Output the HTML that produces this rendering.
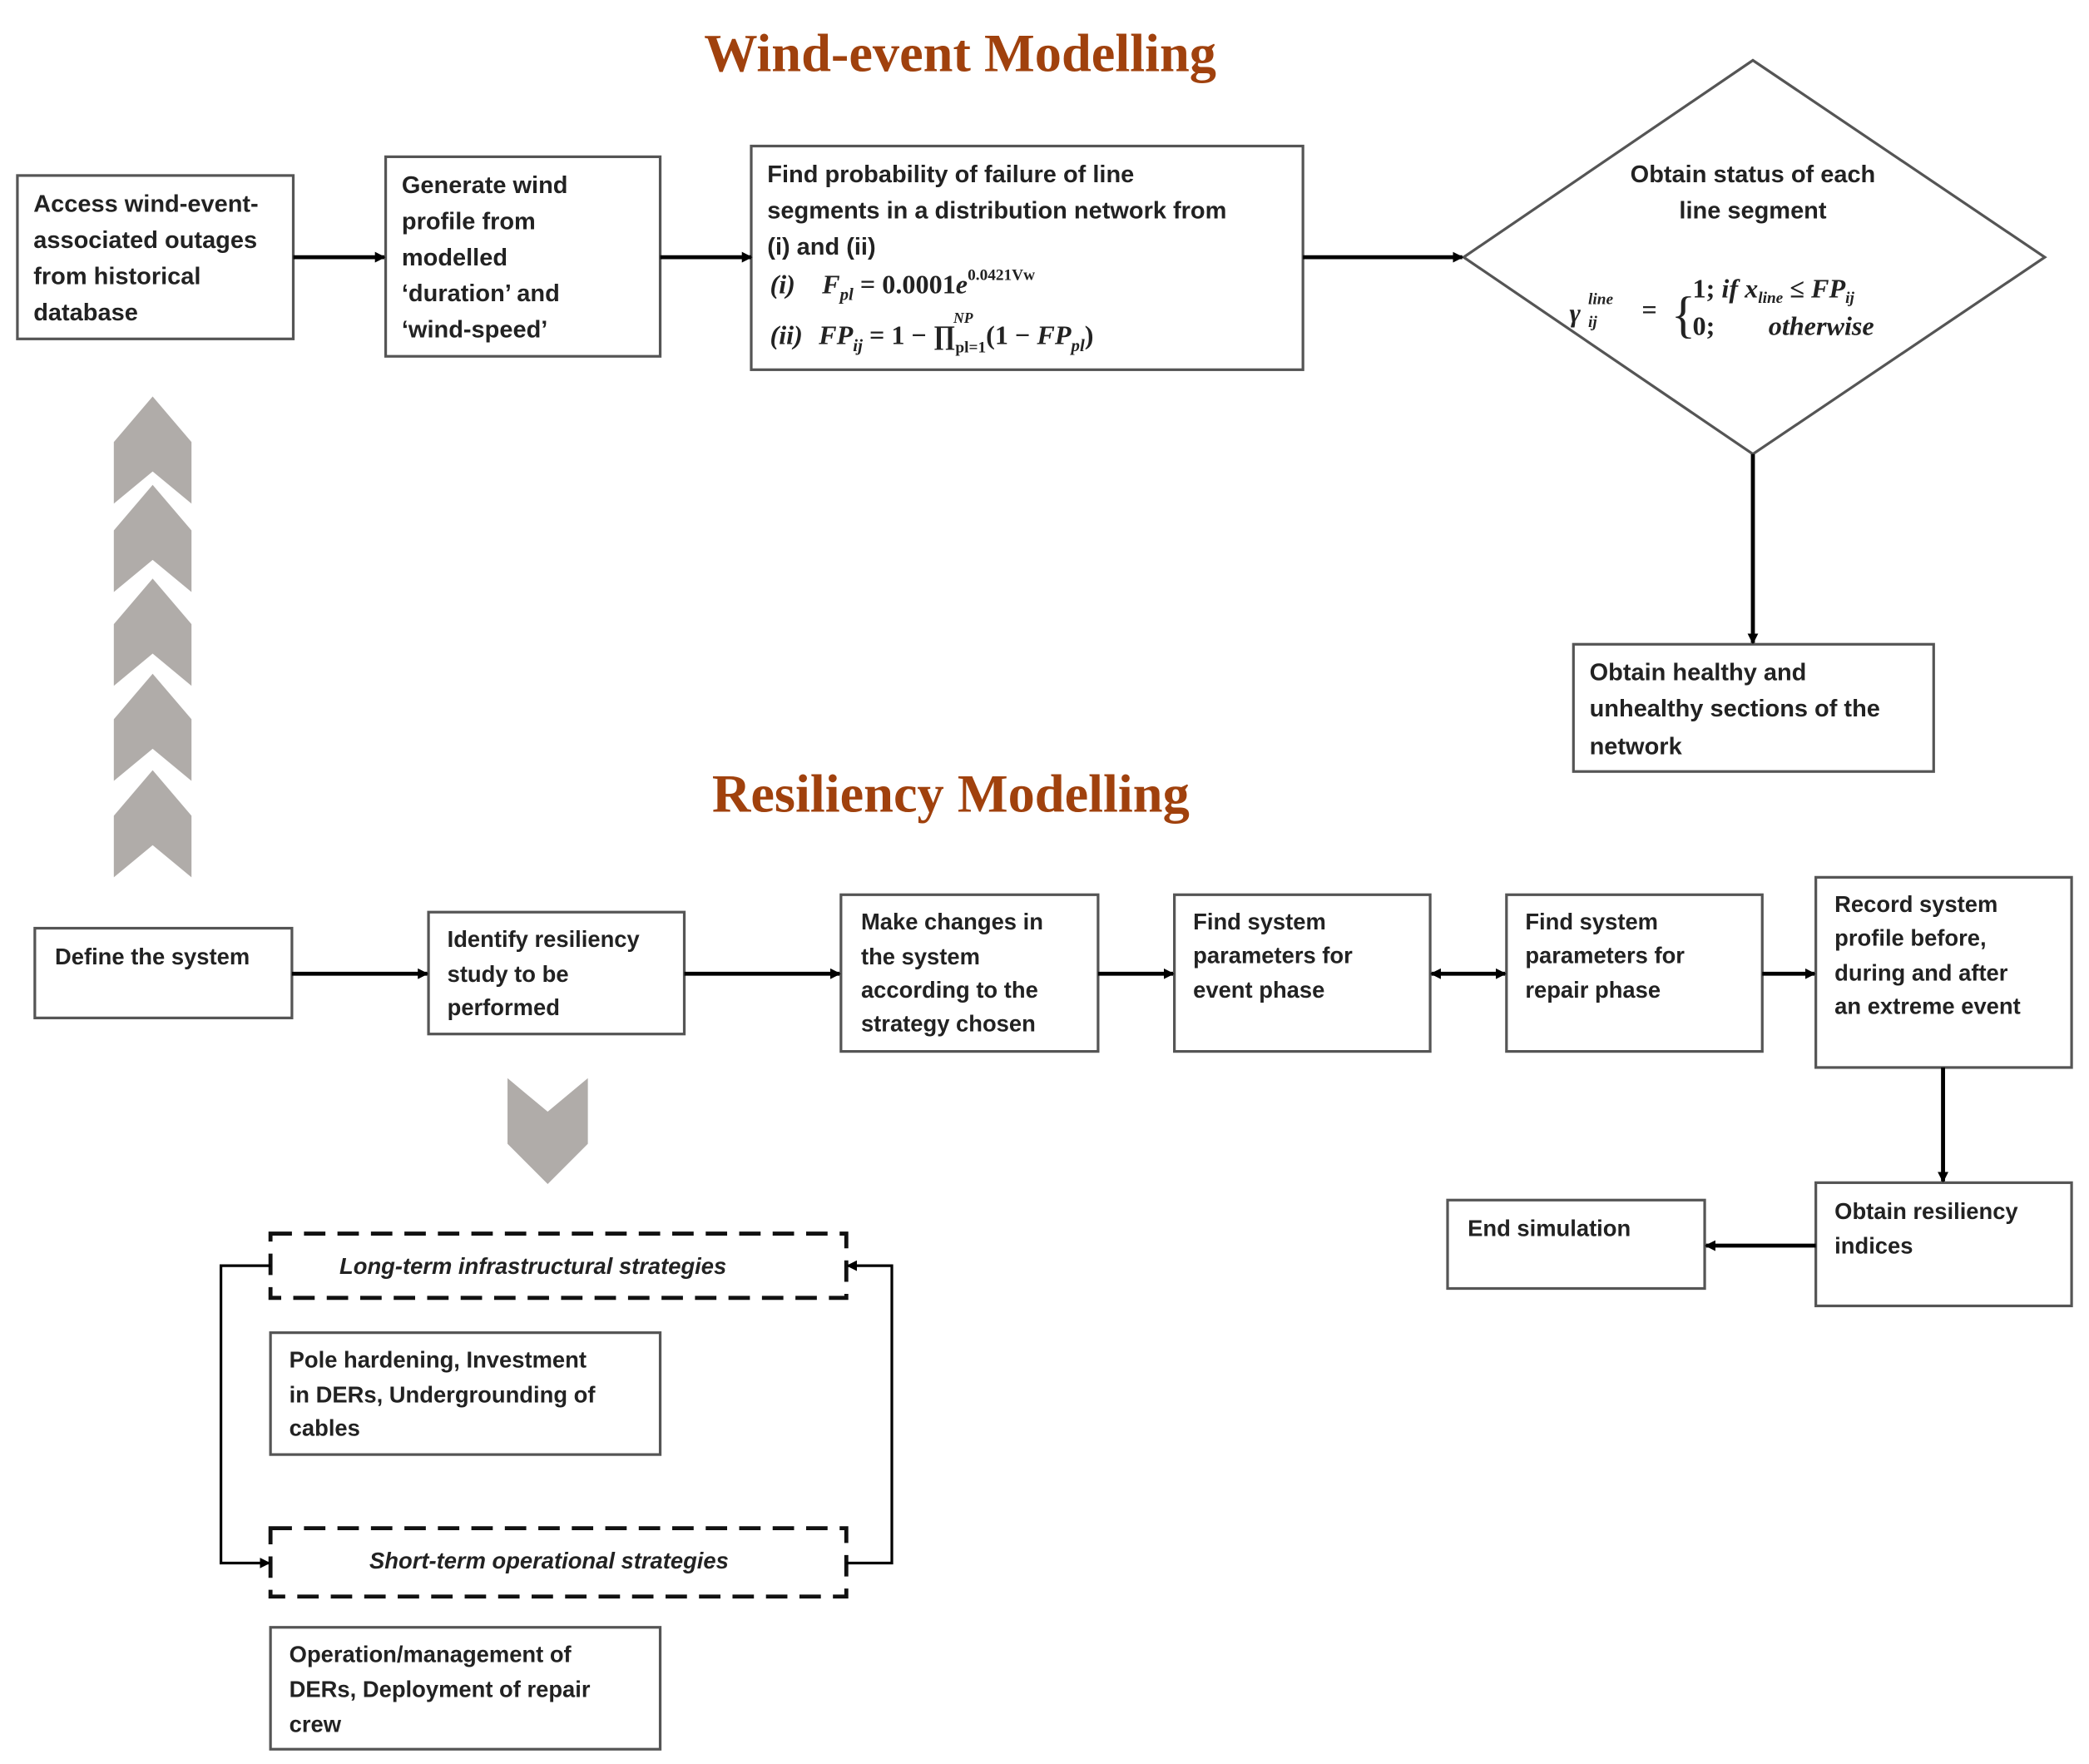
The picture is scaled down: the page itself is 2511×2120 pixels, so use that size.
<!DOCTYPE html>
<html><head><meta charset="utf-8"><style>html,body{margin:0;padding:0;background:#fff}svg{display:block}</style></head><body>
<svg width="2511" height="2120" viewBox="0 0 1560 1317" xmlns="http://www.w3.org/2000/svg" font-family="Liberation Sans, sans-serif">
<defs><marker id="a" markerWidth="8" markerHeight="8" refX="7" refY="4" orient="auto" markerUnits="userSpaceOnUse"><path d="M0,0 L8,4 L0,8 z" fill="#000"/></marker>
<marker id="s" markerWidth="8" markerHeight="8" refX="1" refY="4" orient="auto" markerUnits="userSpaceOnUse"><path d="M8,0 L0,4 L8,8 z" fill="#000"/></marker></defs>
<g fill="none" stroke="#555" stroke-width="2">
<rect x="13" y="131" width="206" height="122"/>
<rect x="288" y="117" width="205" height="149"/>
<rect x="561" y="109" width="412" height="167"/>
<path d="M1309,45 L1527,192 L1309,339 L1093,192 Z"/>
<rect x="1175" y="481" width="269" height="95"/>
<rect x="26" y="693" width="192" height="67"/>
<rect x="320" y="681" width="191" height="91"/>
<rect x="628" y="668" width="192" height="117"/>
<rect x="877" y="668" width="191" height="117"/>
<rect x="1125" y="668" width="191" height="117"/>
<rect x="1356" y="655" width="191" height="142"/>
<rect x="1356" y="883" width="191" height="92"/>
<rect x="1081" y="896" width="192" height="66"/>
<rect x="202" y="995" width="291" height="91"/>
<rect x="202" y="1215" width="291" height="91"/>
</g>
<g fill="none" stroke="#111" stroke-width="3" stroke-dasharray="16,9">
<rect x="202" y="921" width="430" height="48"/>
<rect x="202" y="1141" width="430" height="51"/>
</g>
<g stroke="#000" stroke-width="3" fill="none">
<line x1="219" y1="192" x2="287" y2="192" marker-end="url(#a)"/>
<line x1="493" y1="192" x2="561" y2="192" marker-end="url(#a)"/>
<line x1="973" y1="192" x2="1092" y2="192" marker-end="url(#a)"/>
<line x1="1309" y1="339" x2="1309" y2="480" marker-end="url(#a)"/>
<line x1="218" y1="727" x2="319" y2="727" marker-end="url(#a)"/>
<line x1="511" y1="727" x2="627" y2="727" marker-end="url(#a)"/>
<line x1="820" y1="727" x2="876" y2="727" marker-end="url(#a)"/>
<line x1="1069" y1="727" x2="1124" y2="727" marker-end="url(#a)" marker-start="url(#s)"/>
<line x1="1316" y1="727" x2="1355" y2="727" marker-end="url(#a)"/>
<line x1="1451" y1="797" x2="1451" y2="882" marker-end="url(#a)"/>
<line x1="1356" y1="930" x2="1274" y2="930" marker-end="url(#a)"/>
</g>
<g stroke="#000" stroke-width="2" fill="none">
<polyline points="202,945 165,945 165,1167 201,1167" marker-end="url(#a)"/>
<polyline points="632,1167 666,1167 666,945 633,945" marker-end="url(#a)"/>
</g>
<g fill="#b0aca9">
<path d="M85,330 L114,296 L143,330 L143,376 L114,352 L85,376 Z"/>
<path d="M85,396 L114,362 L143,396 L143,442 L114,418 L85,442 Z"/>
<path d="M85,466 L114,432 L143,466 L143,512 L114,488 L85,512 Z"/>
<path d="M85,537 L114,503 L143,537 L143,583 L114,559 L85,583 Z"/>
<path d="M85,609 L114,575 L143,609 L143,655 L114,631 L85,655 Z"/>
<path d="M379,805 L409,830 L439,805 L439,854 L409,884 L379,854 Z"/>
</g>
<g font-family="Liberation Serif, serif" font-weight="bold" fill="#a0410d" font-size="40" text-anchor="middle">
<text x="717" y="53">Wind-event Modelling</text>
<text x="710" y="606">Resiliency Modelling</text>
</g>
<g font-size="18" font-weight="bold" fill="#222">
<text x="25" y="158">Access wind-event-</text><text x="25" y="185">associated outages</text><text x="25" y="212">from historical</text><text x="25" y="239">database</text>
<text x="300" y="144">Generate wind</text><text x="300" y="171">profile from</text><text x="300" y="198">modelled</text><text x="300" y="225">‘duration’ and</text><text x="300" y="252">‘wind-speed’</text>
<text x="573" y="136">Find probability of failure of line</text><text x="573" y="163">segments in a distribution network from</text><text x="573" y="190">(i) and (ii)</text>
<text x="1309" y="136" text-anchor="middle">Obtain status of each</text><text x="1309" y="163" text-anchor="middle">line segment</text>
<text x="1187" y="508">Obtain healthy and</text><text x="1187" y="535">unhealthy sections of the</text><text x="1187" y="563">network</text>
</g>
<g font-family="Liberation Serif, serif" font-weight="bold" fill="#222" font-size="20">
<text x="575" y="219"><tspan font-style="italic">(i)</tspan><tspan dx="20" font-style="italic">F</tspan><tspan font-size="13" dy="5" font-style="italic">pl</tspan><tspan dy="-5"> = 0.0001</tspan><tspan font-style="italic">e</tspan><tspan font-size="12" dy="-10">0.0421Vw</tspan></text>
<text x="575" y="257"><tspan font-style="italic">(ii)</tspan><tspan dx="12" font-style="italic">FP</tspan><tspan font-size="13" dy="5" font-style="italic">ij</tspan><tspan dy="-5"> = 1 − ∏</tspan><tspan font-size="12" dy="6">pl=1</tspan><tspan dy="-6">(1 − </tspan><tspan font-style="italic">FP</tspan><tspan font-size="13" dy="5" font-style="italic">pl</tspan><tspan dy="-5">)</tspan></text>
<text x="712" y="241" font-size="11" font-style="italic">NP</text>
<text x="1172" y="240" font-style="italic">γ</text><text x="1186" y="227" font-size="12" font-style="italic">line</text><text x="1186" y="244" font-size="12" font-style="italic">ij</text>
<text x="1226" y="238">=</text><text x="1248" y="248" font-size="38" font-weight="normal">{</text>
<text x="1264" y="222">1; <tspan font-style="italic">if x</tspan><tspan font-size="12" dy="4" font-style="italic">line</tspan><tspan dy="-4"> ≤ </tspan><tspan font-style="italic">FP</tspan><tspan font-size="12" dy="4" font-style="italic">ij</tspan></text>
<text x="1264" y="250">0;<tspan dx="40" font-style="italic">otherwise</tspan></text>
</g>
<g font-size="17" font-weight="bold" fill="#222">
<text x="41" y="720">Define the system</text>
<text x="334" y="707">Identify resiliency</text><text x="334" y="733">study to be</text><text x="334" y="758">performed</text>
<text x="643" y="694">Make changes in</text><text x="643" y="720">the system</text><text x="643" y="745">according to the</text><text x="643" y="770">strategy chosen</text>
<text x="891" y="694">Find system</text><text x="891" y="719">parameters for</text><text x="891" y="745">event phase</text>
<text x="1139" y="694">Find system</text><text x="1139" y="719">parameters for</text><text x="1139" y="745">repair phase</text>
<text x="1370" y="681">Record system</text><text x="1370" y="706">profile before,</text><text x="1370" y="732">during and after</text><text x="1370" y="757">an extreme event</text>
<text x="1370" y="910">Obtain resiliency</text><text x="1370" y="936">indices</text>
<text x="1096" y="923">End simulation</text>
<text x="216" y="1021">Pole hardening, Investment</text><text x="216" y="1047">in DERs, Undergrounding of</text><text x="216" y="1072">cables</text>
<text x="216" y="1241">Operation/management of</text><text x="216" y="1267">DERs, Deployment of repair</text><text x="216" y="1293">crew</text>
<text x="398" y="951" text-anchor="middle" font-style="italic">Long-term infrastructural strategies</text>
<text x="410" y="1171" text-anchor="middle" font-style="italic">Short-term operational strategies</text>
</g>
</svg>
</body></html>
